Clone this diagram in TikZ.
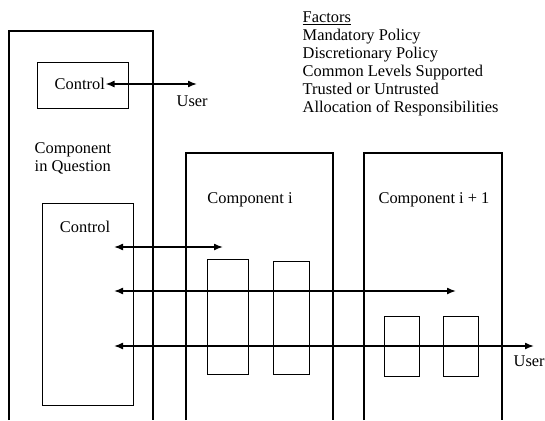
\documentclass[tikz,border=0pt]{standalone}
\usepackage{fontspec}
\setmainfont{Liberation Serif}
\usetikzlibrary{arrows.meta}
\begin{document}
\begin{tikzpicture}[x=1pt,y=-1pt,
  line width=1.4pt,
  txt/.style={font=\fontsize{16.4}{18}\selectfont, inner sep=0pt},
  boxline/.style={draw, line width=1.4pt},
  dbl/.style={{Latex[length=9pt,width=7pt]}-{Latex[length=9pt,width=7pt]}, line width=1.5pt}]
\useasboundingbox (0,0) rectangle (545,420);
% outer component in question
\draw[boxline] (9,420) -- (9,31) -- (153,31) -- (153,420);
% component i
\draw[boxline] (186,420) -- (186,153) -- (333,153) -- (333,420);
% component i+1
\draw[boxline] (364,420) -- (364,153) -- (502,153) -- (502,420);
% top control
\node[boxline, minimum width=91pt, minimum height=46pt, anchor=north west] (ctop) at (37,62) {};
\node[txt, anchor=west] (ctopt) at (54,84) {Control};
\coordinate (u1) at (197,84);
\draw[dbl] (ctopt.east) -- (u1);
\node[txt, anchor=north west] (user1) at (176,95) {User};
% labels
\node[txt, anchor=north west, align=left] (ciq) at (34,142) {Component\\in Question};
\node[txt] (cil) at (250,200) {Component i};
\node[txt] (ci1l) at (434,200) {Component i + 1};
% lower control
\node[boxline, minimum width=91pt, minimum height=202pt, anchor=north west] (cbot) at (42,203) {};
\node[txt] (cbott) at (85,227) {Control};
% small boxes
\node[boxline, minimum width=41pt, minimum height=115pt, anchor=north west] (b1) at (207,259) {};
\node[boxline, minimum width=36pt, minimum height=113pt, anchor=north west] (b2) at (273,261) {};
\node[boxline, minimum width=35pt, minimum height=60pt, anchor=north west] (b3) at (384,316) {};
\node[boxline, minimum width=35pt, minimum height=60pt, anchor=north west] (b4) at (443,316) {};
% arrows
\coordinate (a1l) at (114,247); \coordinate (a1r) at (223,247);
\coordinate (a2l) at (114,291); \coordinate (a2r) at (456,291);
\coordinate (a3l) at (114,346); \coordinate (a3r) at (534,346);
\draw[dbl] (a1l) -- (a1r);
\draw[dbl] (a2l) -- (a2r);
\draw[dbl] (a3l) -- (a3r);
\node[txt, anchor=north west] (user2) at (513,355) {User};
% factors
\node[txt, anchor=north west, align=left] (factors) at (302,11) {\underline{Factors}\\Mandatory Policy\\Discretionary Policy\\Common Levels Supported\\Trusted or Untrusted\\Allocation of Responsibilities};
\end{tikzpicture}
\end{document}
